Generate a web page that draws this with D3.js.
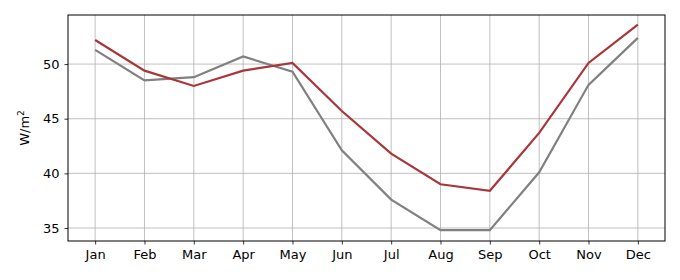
<!DOCTYPE html>
<html>
<head>
<meta charset="utf-8">
<script src="https://cdn.jsdelivr.net/npm/d3@7"></script>
<style>
  body { margin: 0; background: #fff; }
  text { font-family: "DejaVu Sans", sans-serif; }
</style>
</head>
<body>
<div id="chart"></div>
<script>
// Data
const months = ["Jan", "Feb", "Mar", "Apr", "May", "Jun", "Jul", "Aug", "Sep", "Oct", "Nov", "Dec"];
const redValues = [52.2, 49.4, 48.0, 49.4, 50.1, 45.7, 41.8, 39.0, 38.4, 43.7, 50.1, 53.6];
const greyValues = [51.3, 48.5, 48.8, 50.7, 49.3, 42.1, 37.6, 34.8, 34.8, 40.1, 48.1, 52.4];
const yTicks = [35, 40, 45, 50];

// Chart dimensions and margins
const width = 680;
const height = 280;
const margin = { top: 15, right: 15, bottom: 39, left: 68 };

const svg = d3.select("#chart")
    .append("svg")
    .attr("width", width)
    .attr("height", height);

// Scales
const x = d3.scaleLinear()
    .domain([-0.55, 11.55])
    .range([margin.left, width - margin.right]);

const y = d3.scaleLinear()
    .domain([33.81, 54.49])
    .range([height - margin.bottom, margin.top]);

// Grid
svg.append("g")
    .selectAll("line.vgrid")
    .data(months)
    .enter()
    .append("line")
    .attr("x1", (d, i) => x(i))
    .attr("x2", (d, i) => x(i))
    .attr("y1", margin.top)
    .attr("y2", height - margin.bottom)
    .attr("stroke", "#b0b0b0")
    .attr("stroke-width", 0.8);

svg.append("g")
    .selectAll("line.hgrid")
    .data(yTicks)
    .enter()
    .append("line")
    .attr("x1", margin.left)
    .attr("x2", width - margin.right)
    .attr("y1", d => y(d))
    .attr("y2", d => y(d))
    .attr("stroke", "#b0b0b0")
    .attr("stroke-width", 0.8);

// Lines
const line = d3.line()
    .x((d, i) => x(i))
    .y(d => y(d));

svg.append("path")
    .datum(greyValues)
    .attr("fill", "none")
    .attr("stroke", "#808080")
    .attr("stroke-width", 2.2)
    .attr("d", line);

svg.append("path")
    .datum(redValues)
    .attr("fill", "none")
    .attr("stroke", "#a8363a")
    .attr("stroke-width", 2.2)
    .attr("d", line);

// Axes
const xAxis = svg.append("g")
    .attr("transform", `translate(0,${height - margin.bottom})`)
    .call(d3.axisBottom(x)
        .tickValues(d3.range(months.length))
        .tickFormat(i => months[i])
        .tickSize(3.5)
        .tickPadding(5));

const yAxis = svg.append("g")
    .attr("transform", `translate(${margin.left},0)`)
    .call(d3.axisLeft(y)
        .tickValues(yTicks)
        .tickSize(3.5)
        .tickPadding(5));

[xAxis, yAxis].forEach(ax => {
    ax.select(".domain").remove();
    ax.selectAll("text").attr("font-size", 13).attr("fill", "#000").attr("font-family", "DejaVu Sans");
    ax.selectAll("line").attr("stroke", "#000").attr("stroke-width", 0.8);
});

// Frame
svg.append("rect")
    .attr("x", margin.left)
    .attr("y", margin.top)
    .attr("width", width - margin.left - margin.right)
    .attr("height", height - margin.top - margin.bottom)
    .attr("fill", "none")
    .attr("stroke", "#000")
    .attr("stroke-width", 1);

// Y label
const label = svg.append("text")
    .attr("transform", `translate(29,${(margin.top + height - margin.bottom) / 2}) rotate(-90)`)
    .attr("text-anchor", "middle")
    .attr("font-size", 13)
    .attr("fill", "#000");
label.append("tspan").text("W/m");
label.append("tspan").attr("dy", -5).attr("font-size", 9).text("2");
</script>
</body>
</html>
